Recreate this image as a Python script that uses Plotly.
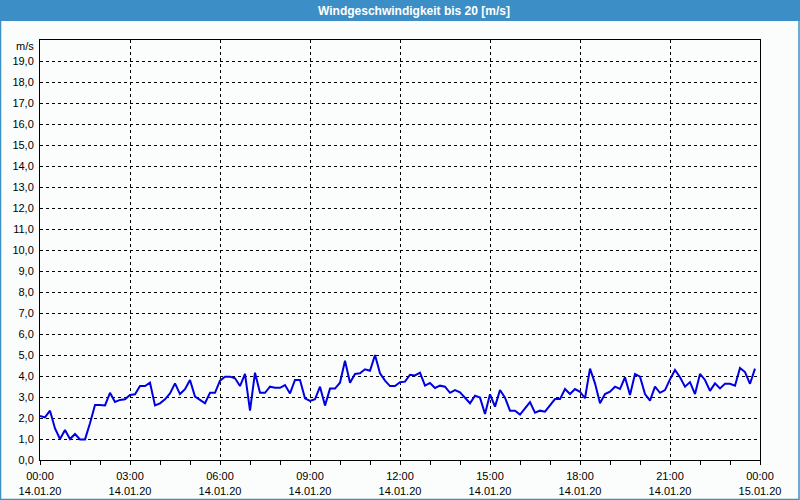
import pandas as pd
import plotly.graph_objects as go

# Wind speed [m/s], 10-minute values from 14.01.20 00:00
speed = [
    2.10, 2.03, 2.35, 1.50, 1.00, 1.43, 1.00, 1.24, 0.98, 0.98, 1.75, 2.62,
    2.62, 2.60, 3.20, 2.76, 2.86, 2.89, 3.10, 3.13, 3.52, 3.52, 3.68, 2.60,
    2.70, 2.89, 3.17, 3.65, 3.14, 3.37, 3.81, 3.02, 2.86, 2.70, 3.20, 3.20,
    3.78, 3.97, 3.97, 3.89, 3.52, 4.10, 2.35, 4.16, 3.20, 3.20, 3.49, 3.44,
    3.44, 3.57, 3.17, 3.81, 3.81, 2.94, 2.81, 2.89, 3.49, 2.59, 3.40, 3.40,
    3.68, 4.73, 3.68, 4.10, 4.13, 4.32, 4.25, 5.00, 4.13, 3.78, 3.52, 3.52,
    3.70, 3.73, 4.06, 4.03, 4.16, 3.54, 3.67, 3.43, 3.54, 3.49, 3.20, 3.33,
    3.22, 2.98, 2.70, 3.06, 2.97, 2.19, 3.13, 2.54, 3.33, 2.97, 2.35, 2.35,
    2.16, 2.46, 2.76, 2.25, 2.35, 2.30, 2.59, 2.90, 2.90, 3.38, 3.14, 3.38,
    3.25, 2.94, 4.35, 3.65, 2.70, 3.14, 3.25, 3.49, 3.38, 3.94, 3.10, 4.10,
    3.97, 3.14, 2.83, 3.49, 3.20, 3.33, 3.84, 4.29, 3.94, 3.49, 3.71, 3.14,
    4.10, 3.81, 3.29, 3.65, 3.41, 3.63, 3.63, 3.54, 4.38, 4.19, 3.63, 4.35,
]
start_time = "2020-01-14 00:00"
end_time = "2020-01-15 00:00"
times = pd.date_range(start_time, periods=len(speed), freq="10min")

x_tick_times = pd.date_range(start_time, end_time, freq="3h")
x_tick_labels = [
    "00:00<br>14.01.20", "03:00<br>14.01.20", "06:00<br>14.01.20",
    "09:00<br>14.01.20", "12:00<br>14.01.20", "15:00<br>14.01.20",
    "18:00<br>14.01.20", "21:00<br>14.01.20", "00:00<br>15.01.20",
]
y_tick_values = list(range(0, 20))
y_tick_labels = [f"{v},0" for v in y_tick_values]

title_text = "Windgeschwindigkeit bis 20 [m/s]"
unit_text = "m/s"

W, H = 800, 500
L, R, T, B = 40, 40, 40, 40
PW, PH = W - L - R, H - T - B


def px(p):
    return (p - L) / PW


def py(q):
    return (H - B - q) / PH


BLUE = "#3c8fc6"
BG = "#fbfdfc"
FONT = "Liberation Sans"

fig = go.Figure()
fig.add_trace(go.Scatter(
    x=times, y=speed, mode="lines",
    line=dict(color="#0000e0", width=2),
    hoverinfo="x+y", showlegend=False,
))

grid = dict(showgrid=True, gridcolor="#000000", gridwidth=1, griddash="3px,3px")

fig.update_layout(
    width=W, height=H,
    margin=dict(l=L, r=R, t=T, b=B, pad=0, autoexpand=False),
    paper_bgcolor=BG, plot_bgcolor=BG,
    font=dict(family=FONT, size=11, color="#000000"),
    xaxis=dict(
        type="date", range=[start_time, end_time], automargin=False,
        tickmode="array", tickvals=x_tick_times, ticktext=x_tick_labels,
        ticks="outside", ticklen=4, tickcolor="#000000", tickwidth=1,
        ticklabelstandoff=2,
        minor=dict(dtick=3600000, ticks="outside", ticklen=4,
                   tickcolor="#000000", showgrid=False),
        showline=True, linecolor="#000000", linewidth=1, mirror=True,
        zeroline=False, **grid,
    ),
    yaxis=dict(
        range=[0, 20], tickmode="array", automargin=False,
        tickvals=y_tick_values, ticktext=y_tick_labels,
        ticks="", ticklabelstandoff=3,
        showline=True, linecolor="#000000", linewidth=1, mirror=True,
        zeroline=False, **grid,
    ),
    shapes=[
        dict(type="rect", xref="paper", yref="paper",
             x0=px(0), x1=px(800), y0=py(21), y1=py(0),
             fillcolor=BLUE, line=dict(width=0), layer="above"),
        dict(type="rect", xref="paper", yref="paper",
             x0=px(0.5), x1=px(799), y0=py(499.5), y1=py(0.5),
             fillcolor="rgba(0,0,0,0)", line=dict(color=BLUE, width=1.5),
             layer="above"),
    ],
    annotations=[
        dict(text=f"<b>{title_text}</b>", xref="paper", yref="paper",
             x=px(414), y=py(10.5), xanchor="center", yanchor="middle",
             showarrow=False,
             font=dict(family=FONT, size=12, color="#ffffff")),
        dict(text=unit_text, xref="paper", yref="paper",
             x=px(36), y=py(46.5), xanchor="right", yanchor="middle",
             showarrow=False, font=dict(family=FONT, size=11, color="#000000")),
    ],
)

fig.write_html("out.html")
